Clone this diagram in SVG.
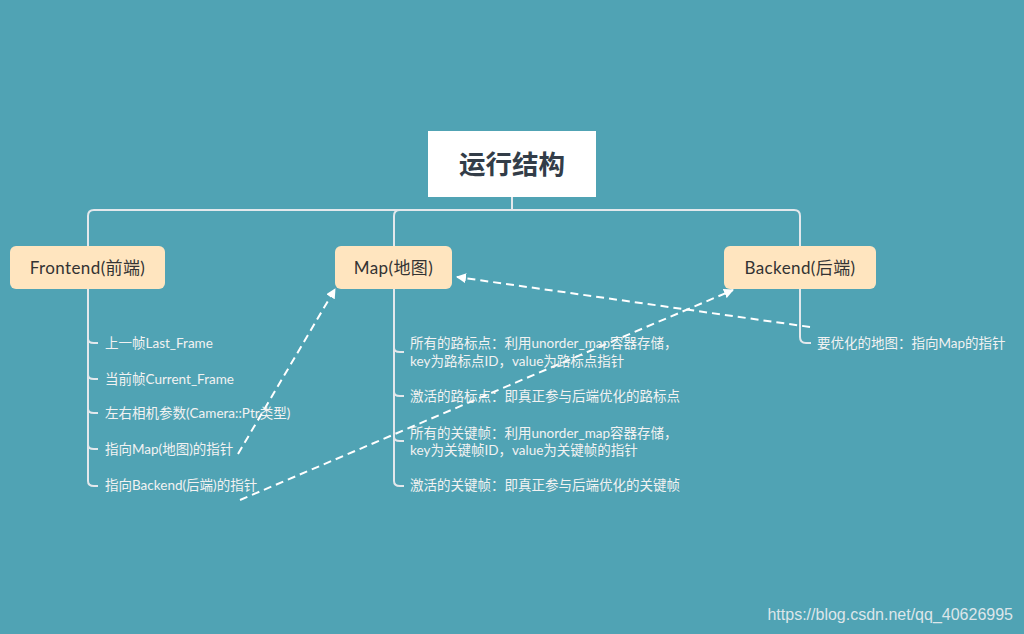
<svg xmlns="http://www.w3.org/2000/svg" width="1024" height="634" viewBox="0 0 1024 634">
<defs>
<style>
.tree{fill:none;stroke:#e3e8ec;stroke-width:2}
.node rect{fill:#ffe5bf;stroke:none}
.nt{font-family:Lato,"Noto Sans CJK SC",sans-serif;font-size:17px;letter-spacing:0.4px;fill:#333;text-anchor:middle}
.ct{font-family:Lato,"Noto Sans CJK SC",sans-serif;font-size:13.5px;fill:#f2f2f2}
.dash{fill:none;stroke:#ffffff;stroke-width:2;stroke-dasharray:8,5}
</style>
<marker id="ah" viewBox="0 0 10 10" refX="9" refY="5" markerWidth="5" markerHeight="5" orient="auto" markerUnits="strokeWidth">
<path d="M0,0 L10,5 L0,10 z" fill="#ffffff"/>
</marker>
</defs>
<rect width="1024" height="634" fill="#50a3b4"/>
<g id="connectors">
<path class="tree" d="M512,197 V210"/>
<path class="tree" d="M88,246 V216 Q88,210 94,210 H794 Q800,210 800,216 V246"/>
<path class="tree" d="M394,246 V216 Q394,210 400,210"/>
<path class="tree" d="M88,289 V339 Q88,343 94,343 H98 M88,339 V375 Q88,379 94,379 H98 M88,375 V409 Q88,413 94,413 H98 M88,409 V445 Q88,449 94,449 H98 M88,445 V481 Q88,486 94,486 H98"/>
<path class="tree" d="M394,289 V348 Q394,352 400,352 H404 M394,348 V392 Q394,396 400,396 H404 M394,392 V437 Q394,441 400,441 H404 M394,437 V481 Q394,486 400,486 H404"/>
<path class="tree" d="M800,289 V337 Q800,343 806,343 H811"/>
<path class="dash" d="M238,454 L335,289" marker-end="url(#ah)"/>
<path class="dash" d="M240,500 L733,290" marker-end="url(#ah)"/>
<path class="dash" d="M810,327 L457,277" marker-end="url(#ah)"/>
</g>
<g id="title">
<rect x="428" y="131" width="168" height="66" fill="#ffffff"/>
<text x="512" y="174" font-family="'Noto Sans CJK SC',sans-serif" font-size="26.5" font-weight="bold" fill="#333d48" text-anchor="middle">运行结构</text>
</g>
<g id="frontend" class="node">
<rect x="10" y="246" width="155" height="43" rx="6"/>
<text class="nt" x="87.5" y="274">Frontend(前端)</text>
</g>
<g id="map" class="node">
<rect x="335" y="246" width="117" height="43" rx="6"/>
<text class="nt" x="393.5" y="274">Map(地图)</text>
</g>
<g id="backend" class="node">
<rect x="724" y="246" width="152" height="43" rx="6"/>
<text class="nt" x="800" y="274">Backend(后端)</text>
</g>
<g id="frontend-children">
<text class="ct" x="105" y="348">上一帧Last_Frame</text>
<text class="ct" x="105" y="384">当前帧Current_Frame</text>
<text class="ct" x="105" y="418">左右相机参数(Camera::Ptr类型)</text>
<text class="ct" x="105" y="454">指向Map(地图)的指针</text>
<text class="ct" x="105" y="490">指向Backend(后端)的指针</text>
</g>
<g id="map-children">
<text class="ct" x="410" y="348">所有的路标点：利用unorder_map容器存储，</text>
<text class="ct" x="410" y="366">key为路标点ID，value为路标点指针</text>
<text class="ct" x="410" y="401">激活的路标点：即真正参与后端优化的路标点</text>
<text class="ct" x="410" y="438">所有的关键帧：利用unorder_map容器存储，</text>
<text class="ct" x="410" y="455">key为关键帧ID，value为关键帧的指针</text>
<text class="ct" x="410" y="490">激活的关键帧：即真正参与后端优化的关键帧</text>
</g>
<g id="backend-children">
<text class="ct" x="817" y="348">要优化的地图：指向Map的指针</text>
</g>
<text x="1013" y="620" font-family="'Liberation Sans',Arial,sans-serif" font-size="16" fill="#dde6ea" text-anchor="end">https://blog.csdn.net/qq_40626995</text>
</svg>
